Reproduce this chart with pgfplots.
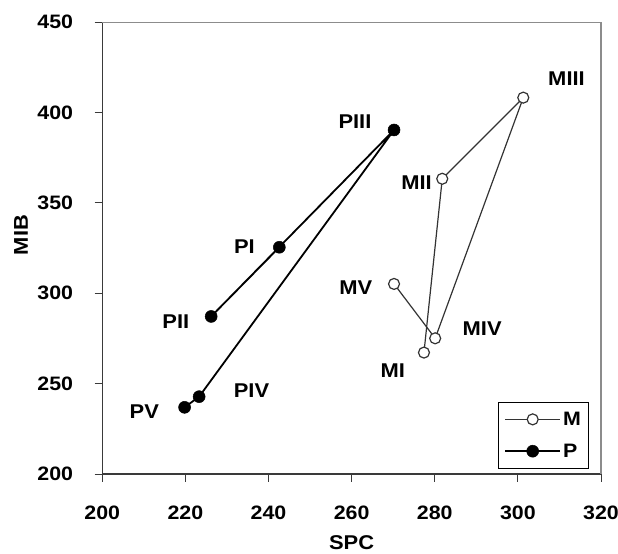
\documentclass[border=0pt]{standalone}
\usepackage{fontspec}
\setmainfont{Liberation Sans}[FakeStretch=1.1]
\usepackage{pgfplots}
\pgfplotsset{compat=1.18}
\definecolor{axisdark}{HTML}{3A3A3A}
\definecolor{framegray}{HTML}{8C8C8C}
\definecolor{mdark}{HTML}{333333}
\begin{document}
\begin{tikzpicture}
\begin{axis}[
  scale only axis,
  width=498.7bp, height=451.7bp,
  xmin=200, xmax=320, ymin=200, ymax=450,
  xtick={200,220,...,320}, ytick={200,250,...,450},
  axis x line*=bottom, axis y line*=left,
  axis line style={draw=axisdark, line width=1.3bp},
  tick align=outside, major tick length=7.7bp,
  tick style={draw=axisdark, line width=1bp},
  /pgf/number format/assume math mode=true,
  ticklabel style={font=\fontsize{19.5}{19.5}\selectfont\bfseries},
  xticklabel style={anchor=north, yshift=-21bp},
  yticklabel style={anchor=east, xshift=-18bp},
  xlabel={SPC}, ylabel={MIB},
  label style={font=\fontsize{20}{20}\selectfont\bfseries},
  xlabel style={at={(axis description cs:0.5,-0.153)}, anchor=center, inner sep=1bp},
  ylabel style={at={(axis description cs:-0.163,0.529)}, anchor=center},
  legend style={at={(axis description cs:0.9765,0.011)}, anchor=south east,
    draw=black, line width=0.8bp, inner xsep=6bp, inner ysep=8bp, row sep=13bp,
    font=\fontsize{19.5}{19.5}\selectfont\bfseries, cells={anchor=west}},
  legend image code/.code={\draw[mark repeat=2,mark phase=2,#1] plot coordinates {(0bp,0bp) (27.5bp,0bp) (55bp,0bp)};},
  clip=false,
]
\addplot[color=mdark, line width=1.2bp, mark=*, mark size=5.5bp, mark options={fill=white, draw=mdark, line width=1.2bp}]
  coordinates {(277.4,267.2) (281.8,363.4) (301.3,408.3) (280.1,275.1) (270.2,305.2)};
\addlegendentry{M}
\addplot[color=black, line width=1.8bp, mark=*, mark size=6bp, mark options={fill=black, draw=black, line width=0.5bp}]
  coordinates {(242.6,325.5) (226.2,287.2) (270.2,390.4) (223.3,242.8) (219.8,236.9)};
\addlegendentry{P}
\draw[framegray, line width=1.5bp] (rel axis cs:0,1) -- (rel axis cs:1,1) -- (rel axis cs:1,0);
\begin{scope}[every node/.style={font=\fontsize{20}{20}\selectfont\bfseries, anchor=center}]
\node at (axis cs:234.2,325.9) {PI};
\node at (axis cs:217.7,284.2) {PII};
\node at (axis cs:260.8,395) {PIII};
\node at (axis cs:235.9,246.1) {PIV};
\node at (axis cs:210.1,234.6) {PV};
\node at (axis cs:269.9,257.3) {MI};
\node at (axis cs:275.6,361) {MII};
\node at (axis cs:311.7,418.6) {MIII};
\node at (axis cs:291.4,280.7) {MIV};
\node at (axis cs:261.0,303.4) {MV};
\end{scope}
\end{axis}
\pgfresetboundingbox
\useasboundingbox (-102.3bp,-80bp) rectangle (515.7bp,474bp);
\end{tikzpicture}
\end{document}
